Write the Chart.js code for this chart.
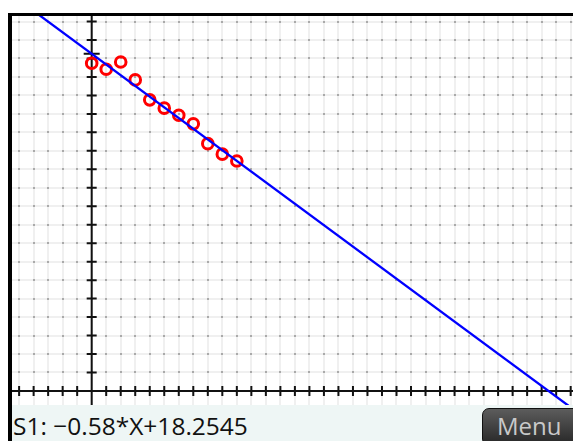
<!DOCTYPE html>
<html>
<head>
<meta charset="utf-8">
<script src="https://cdn.jsdelivr.net/npm/chart.js@4"></script>
<style>
  body { margin: 0; background: #fff; }
  #wrap { position: relative; width: 573px; height: 441px; overflow: hidden; }
  #plot { position: absolute; left: 0; top: 0; }
  .edgeTop { position: absolute; left: 8px; top: 13px; width: 565px; height: 3px; background: #000; }
  .edgeLeft { position: absolute; left: 8px; top: 13px; width: 4px; height: 428px; background: #000; }
  #status { position: absolute; left: 12px; top: 405px; width: 561px; height: 36px; background: #eef6f5; }
  #fitText { position: absolute; left: 13px; top: 408px; font: 24.5px "Open Sans", sans-serif; color: #111; line-height: 36px; }
  #menuBtn { position: absolute; left: 482px; top: 408px; width: 110px; height: 38px; border-radius: 7px;
    background: linear-gradient(#5c5c5c, #262626); border: 1px solid #111; box-sizing: border-box;
    font: 24px "Open Sans", sans-serif; color: #c9c9c9; line-height: 34px; padding-left: 14px; }
</style>
</head>
<body>
<div id="wrap">
  <canvas id="plot" width="573" height="441"></canvas>
  <div class="edgeTop"></div>
  <div class="edgeLeft"></div>
  <div id="status"></div>
  <div id="fitText">S1: −0.58*X+18.2545</div>
  <div id="menuBtn">Menu</div>
</div>
<script>
// data
const xValues = [0, 1, 2, 3, 4, 5, 6, 7, 8, 9, 10];
const yValues = [17.74, 17.42, 17.81, 16.84, 15.76, 15.31, 14.93, 14.46, 13.39, 12.82, 12.45];
const fitSlope = -0.58;
const fitIntercept = 18.2545;
const xRange = [-5.49, 33.16];
const yRange = [-0.76, 20.3];

const points = xValues.map((x, i) => ({ x: x, y: yValues[i] }));
const fitLine = xRange.map(x => ({ x: x, y: fitSlope * x + fitIntercept }));

function intTicks(scale) {
    let t = [];
    for (let v = Math.ceil(scale.min); v <= Math.floor(scale.max); v++) t.push({ value: v });
    scale.ticks = t;
}

// dots at grid crossings, the two axes with tick marks, trace cursor
const axesPlugin = {
    id: 'axes',
    beforeDatasetsDraw(chart) {
        const c = chart.ctx, xs = chart.scales.x, ys = chart.scales.y, a = chart.chartArea;
        const x0 = xs.getPixelForValue(0), y0 = ys.getPixelForValue(0);
        c.save();
        c.fillStyle = '#aaaaaa';
        xs.ticks.forEach(tx => {
            ys.ticks.forEach(ty => {
                c.fillRect(Math.round(xs.getPixelForValue(tx.value)) - 1, Math.round(ys.getPixelForValue(ty.value)) - 1, 2, 2);
            });
        });
        c.strokeStyle = '#111';
        c.lineWidth = 2;
        c.beginPath();
        c.moveTo(a.left, y0); c.lineTo(a.right, y0);
        c.moveTo(x0, a.top); c.lineTo(x0, a.bottom);
        xs.ticks.forEach(t => {
            const px = xs.getPixelForValue(t.value);
            c.moveTo(px, y0 - 5); c.lineTo(px, y0 + 5);
        });
        ys.ticks.forEach(t => {
            const py = ys.getPixelForValue(t.value);
            c.moveTo(x0 - 5, py); c.lineTo(x0 + 5, py);
        });
        const cy = ys.getPixelForValue(fitIntercept);
        c.moveTo(x0 - 8, cy); c.lineTo(x0 + 8, cy);
        c.stroke();
        c.restore();
    }
};

new Chart(document.getElementById('plot'), {
    type: 'scatter',
    data: {
        datasets: [
            {
                type: 'line',
                data: fitLine,
                borderColor: '#0000ff',
                borderWidth: 2.3,
                pointRadius: 0,
                fill: false
            },
            {
                data: points,
                pointRadius: 5.3,
                pointBorderWidth: 3,
                borderColor: '#ff0000',
                backgroundColor: 'rgba(0,0,0,0)'
            }
        ]
    },
    options: {
        responsive: false,
        animation: false,
        layout: { autoPadding: false, padding: { left: 12, top: 16, right: 0, bottom: 36 } },
        plugins: { legend: { display: false }, tooltip: { enabled: false } },
        scales: {
            x: {
                type: 'linear', min: xRange[0], max: xRange[1],
                afterBuildTicks: intTicks,
                ticks: { display: false },
                border: { display: false },
                grid: { color: '#f0f0f0', lineWidth: 2, drawTicks: false }
            },
            y: {
                type: 'linear', min: yRange[0], max: yRange[1],
                afterBuildTicks: intTicks,
                ticks: { display: false },
                border: { display: false },
                grid: { color: '#f0f0f0', lineWidth: 2, drawTicks: false }
            }
        }
    },
    plugins: [axesPlugin]
});
</script>
</body>
</html>
